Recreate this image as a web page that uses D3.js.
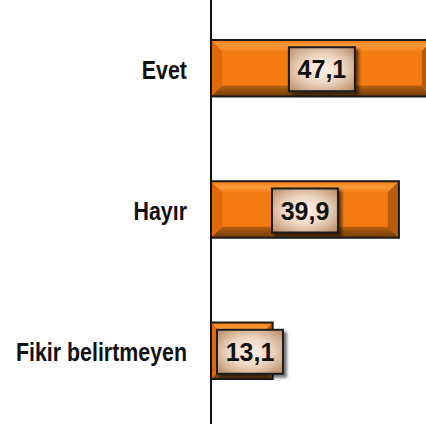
<!DOCTYPE html>
<html>
<head>
<meta charset="utf-8">
<script src="https://cdn.jsdelivr.net/npm/d3@7"></script>
<style>
  body { margin: 0; background: #fff; }
</style>
</head>
<body>
<div id="chart"></div>
<script>
// data
var categories = ["Evet", "Hayır", "Fikir belirtmeyen"];
var values = [47.1, 39.9, 13.1];
var valueLabels = ["47,1", "39,9", "13,1"];

var width = 426, height = 428;

var svg = d3.select("#chart")
    .append("svg")
    .attr("width", width)
    .attr("height", height);

var defs = svg.append("defs");

// label box gradient
var rg = defs.append("radialGradient")
    .attr("id", "boxGrad")
    .attr("cx", "50%").attr("cy", "50%").attr("r", "65%");
rg.append("stop").attr("offset", "0%").attr("stop-color", "#fff3ea");
rg.append("stop").attr("offset", "50%").attr("stop-color", "#eed6c2");
rg.append("stop").attr("offset", "100%").attr("stop-color", "#bf936f");

// bottom bevel gradient
var bg = defs.append("linearGradient")
    .attr("id", "botGrad")
    .attr("x1", 0).attr("y1", 0).attr("x2", 0).attr("y2", 1);
bg.append("stop").attr("offset", "0%").attr("stop-color", "#b8600f");
bg.append("stop").attr("offset", "100%").attr("stop-color", "#6e3a0a");

var tg = defs.append("linearGradient")
    .attr("id", "topGrad")
    .attr("x1", 0).attr("y1", 0).attr("x2", 0).attr("y2", 1);
tg.append("stop").attr("offset", "0%").attr("stop-color", "#f47a12");
tg.append("stop").attr("offset", "50%").attr("stop-color", "#fb9a3a");
tg.append("stop").attr("offset", "100%").attr("stop-color", "#f6821b");

var shadow = defs.append("filter").attr("id", "shadow")
    .attr("x", "-20%").attr("y", "-20%").attr("width", "150%").attr("height", "150%");
shadow.append("feDropShadow")
    .attr("dx", 3).attr("dy", 3).attr("stdDeviation", 1.5)
    .attr("flood-color", "#000").attr("flood-opacity", 0.55);

// scales
var x = d3.scaleLinear()
    .domain([0, 50])
    .range([211, 211 + 50 * 4.71]);

var y = d3.scaleBand()
    .domain(categories)
    .range([0, 419])
    .paddingInner(0.6)
    .paddingOuter(0.283);

var bev = 11;

var bars = svg.append("g")
    .selectAll("g")
    .data(values)
    .enter()
    .append("g");

bars.each(function(d, i) {
    var g = d3.select(this);
    var x0 = x(0), x1 = x(d);
    var y0 = y(categories[i]), y1 = y0 + y.bandwidth();
    var b = Math.min(bev, (x1 - x0) / 2 - 1);

    // base
    g.append("rect")
        .attr("x", x0).attr("y", y0)
        .attr("width", x1 - x0).attr("height", y1 - y0)
        .attr("fill", "#f47a12");
    // top bevel
    g.append("polygon")
        .attr("points", [[x0, y0], [x1, y0], [x1 - b, y0 + b], [x0 + b, y0 + b]].join(" "))
        .attr("fill", "url(#topGrad)");
    // bottom bevel
    g.append("polygon")
        .attr("points", [[x0, y1], [x1, y1], [x1 - b, y1 - b], [x0 + b, y1 - b]].join(" "))
        .attr("fill", "url(#botGrad)");
    // left bevel
    g.append("polygon")
        .attr("points", [[x0, y0], [x0 + b, y0 + b], [x0 + b, y1 - b], [x0, y1]].join(" "))
        .attr("fill", "#e06a0a");
    // right bevel
    g.append("polygon")
        .attr("points", [[x1, y0], [x1 - b, y0 + b], [x1 - b, y1 - b], [x1, y1]].join(" "))
        .attr("fill", "#b85c0c");
    // outline
    g.append("rect")
        .attr("x", x0).attr("y", y0)
        .attr("width", x1 - x0).attr("height", y1 - y0)
        .attr("fill", "none")
        .attr("stroke", "#1a1a1a")
        .attr("stroke-width", 2);

    // value label box
    var cx = Math.max((x0 + x1) / 2, x0 + 39);
    var cy = (y0 + y1) / 2 + 1;
    g.append("rect")
        .attr("x", cx - 33).attr("y", cy - 22)
        .attr("width", 66).attr("height", 44)
        .attr("fill", "url(#boxGrad)")
        .attr("stroke", "#1a1a1a")
        .attr("stroke-width", 2)
        .attr("filter", "url(#shadow)");
    g.append("text")
        .attr("x", cx).attr("y", cy + 9)
        .attr("text-anchor", "middle")
        .style("font-family", "'Liberation Sans', Arial, sans-serif")
        .style("font-weight", "bold")
        .style("font-size", "25px")
        .style("fill", "#111")
        .text(valueLabels[i]);
});

// axis line
svg.append("line")
    .attr("x1", x(0)).attr("x2", x(0))
    .attr("y1", 0).attr("y2", 424)
    .attr("stroke", "#111")
    .attr("stroke-width", 2);

// category labels (condensed bold)
svg.append("g")
    .selectAll("text")
    .data(categories)
    .enter()
    .append("text")
    .attr("transform", function(d) {
        return "translate(187," + (y(d) + y.bandwidth() / 2 + 10.5) + ") scale(0.855,1)";
    })
    .attr("text-anchor", "end")
    .style("font-family", "'Liberation Sans', Arial, sans-serif")
    .style("font-weight", "bold")
    .style("font-size", "25px")
    .style("fill", "#111")
    .text(function(d) { return d; });
</script>
</body>
</html>
